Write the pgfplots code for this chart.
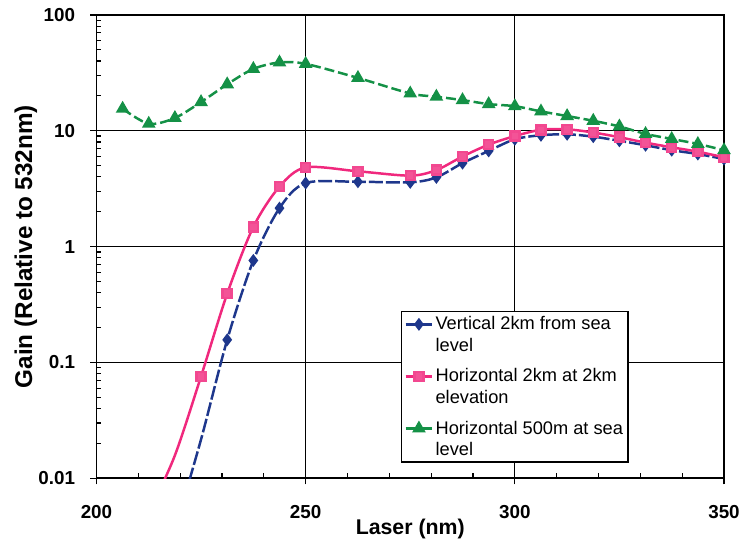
\documentclass[border=0pt]{standalone}
\usepackage{fontspec}
\setmainfont{Liberation Sans}
\usepackage{pgfplots}
\pgfplotsset{compat=1.18}
\definecolor{cblue}{RGB}{30,55,140}
\definecolor{cpink}{RGB}{240,40,125}
\definecolor{cgreen}{RGB}{20,145,70}
\begin{document}
\begin{tikzpicture}
\begin{axis}[
  scale only axis,
  width=631bp, height=466bp,
  xmin=200, xmax=350,
  ymode=log, ymin=0.01, ymax=100,
  xtick={200,250,300,350},
  xticklabels={200,250,300,350},
  minor x tick num=4,
  ytick={0.01,0.1,1,10,100},
  yticklabels={0.01,0.1,1,10,100},
  tick pos=left,
  tick align=inside,
  major tick length=7bp,
  minor tick length=5bp,
  tick style={black, line width=1.2bp},
  extra x ticks={200,250,300,350},
  extra x tick labels={},
  extra y ticks={0.01,0.1,1,10,100},
  extra y tick labels={},
  extra tick style={tick align=outside, major tick length=6bp, grid=none},
  grid=major,
  major grid style={black, line width=1.3bp},
  axis line style={black, line width=1.8bp},
  ticklabel style={font=\bfseries\fontsize{19}{21}\selectfont},
  xticklabel style={yshift=-24bp},
  yticklabel style={xshift=-18bp},
  xlabel={Laser (nm)},
  ylabel={Gain (Relative to 532nm)},
  xlabel style={font=\bfseries\fontsize{21.5}{24}\selectfont, at={(axis description cs:0.5,-0.11)}, anchor=center},
  ylabel style={font=\bfseries\fontsize{24.5}{27}\selectfont, at={(axis description cs:-0.1125,0.5)}, anchor=center},
  legend style={at={(0.848,0.034)}, anchor=south east, draw=black, line width=1.2bp,
    font=\fontsize{18.4}{21.7}\selectfont, inner sep=3bp,
    cells={anchor=west, align=left}, row sep=12bp},
  legend image code/.code={%
    \draw[mark repeat=2, mark phase=2, yshift=10.5bp, line width=2.5bp, solid] plot coordinates {(0bp,0bp) (13.5bp,0bp) (27bp,0bp)};},
]
\addplot[cblue, line width=2.5bp, dash pattern=on 14bp off 3bp, smooth, tension=0.5,
  mark=diamond*, mark size=4.5bp, mark phase=2, mark repeat=1, mark options={solid, fill=cblue}]
coordinates {
(218.75,0.0036) (225,0.0217) (231.25,0.157) (237.5,0.76) (243.75,2.15) (250,3.54)
(262.5,3.63) (275,3.59) (281.25,3.96) (287.5,5.26) (293.75,6.7) (300,8.45)
(306.25,9.15) (312.5,9.33) (318.75,8.9) (325,8.2) (331.25,7.5) (337.5,6.8)
(343.75,6.3) (350,5.7)
};
\addlegendentry{Vertical 2km from sea\\level}
\addplot[cpink, line width=2.5bp, smooth, tension=0.5,
  mark=square*, mark size=4.5bp, mark phase=2, mark repeat=1, mark options={solid, fill=cpink!80!white, draw=cpink!85!white}]
coordinates {
(212.5,0.005) (218.75,0.0158) (225,0.076) (231.25,0.393) (237.5,1.48) (243.75,3.3)
(250,4.83) (262.5,4.47) (275,4.1) (281.25,4.58) (287.5,6.0) (293.75,7.6)
(300,9.0) (306.25,10.2) (312.5,10.3) (318.75,9.66) (325,8.8) (331.25,7.9)
(337.5,7.2) (343.75,6.6) (350,5.9)
};
\addlegendentry{Horizontal 2km at 2km\\elevation}
\addplot[cgreen, line width=2.5bp, dash pattern=on 10bp off 4bp, smooth, tension=0.5,
  mark=triangle*, mark size=5.5bp, mark options={solid, fill=cgreen}]
coordinates {
(206.25,15.5) (212.5,11.5) (218.75,12.9) (225,17.7) (231.25,25.2) (237.5,34.2)
(243.75,38.9) (250,37.8) (262.5,28.6) (275,21) (281.25,19.7) (287.5,18.4)
(293.75,17.0) (300,16.3) (306.25,14.7) (312.5,13.4) (318.75,12.2) (325,10.9)
(331.25,9.4) (337.5,8.5) (343.75,7.7) (350,6.8)
};
\addlegendentry{Horizontal 500m at sea\\level}
\end{axis}
\path ([xshift=-97bp,yshift=-69bp]current axis.south west) rectangle ([xshift=15bp,yshift=15bp]current axis.north east);
\end{tikzpicture}
\end{document}
